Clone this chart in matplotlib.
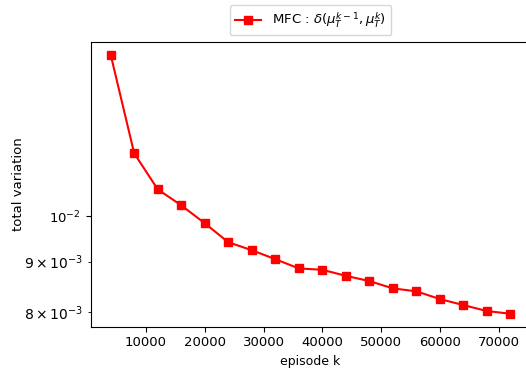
import matplotlib
matplotlib.use('Agg')
import matplotlib.pyplot as plt

episodes = [4000, 8000, 12000, 16000, 20000, 24000, 28000, 32000, 36000,
            40000, 44000, 48000, 52000, 56000, 60000, 64000, 68000, 72000]
tv = [0.01457, 0.01158, 0.010648, 0.010259, 0.009839, 0.009414, 0.009240,
      0.009049, 0.008856, 0.008828, 0.008705, 0.008599, 0.008454, 0.008396,
      0.008246, 0.008132, 0.008019, 0.007969]

fig = plt.figure(figsize=(5.26, 3.72), dpi=100)
ax = fig.add_axes([0.1724, 0.1218, 0.836, 0.766])

ax.plot(episodes, tv, color='red', marker='s', markersize=6, linewidth=1.5,
        label=r'MFC : $\delta(\mu_T^{k-1}, \mu_T^{k})$')
ax.set_yscale('log')
ax.set_xlabel('episode k', fontsize=9)
ax.set_ylabel('total variation', fontsize=9.5, labelpad=-1)
ax.tick_params(labelsize=9.5)

ax.legend(loc='lower center', bbox_to_anchor=(0.5, 1.0), fontsize=9.5)

fig.savefig('out.png', dpi=100)
